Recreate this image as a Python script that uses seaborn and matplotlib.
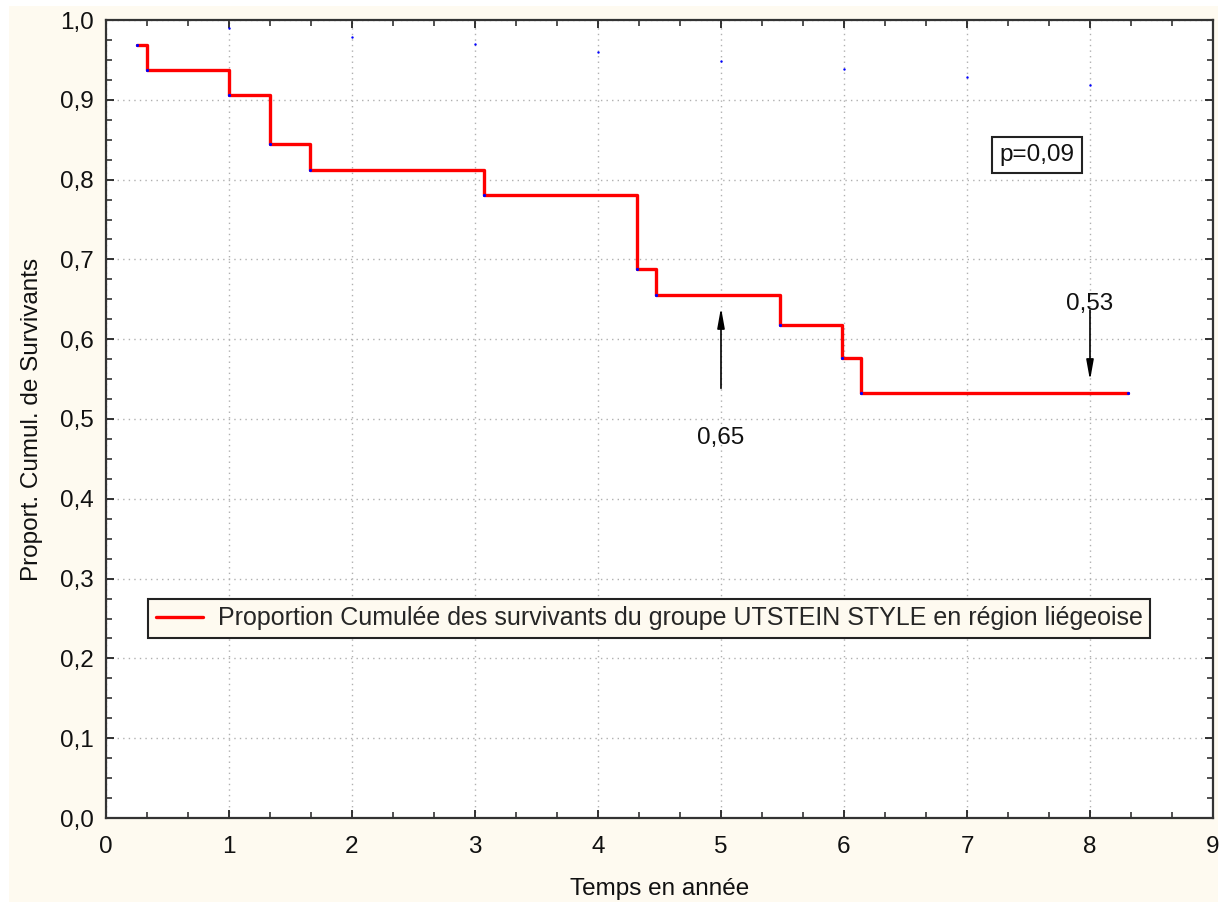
import matplotlib
matplotlib.use("Agg")
import matplotlib.pyplot as plt
import matplotlib.patches as mpatches
from matplotlib.ticker import MultipleLocator, FuncFormatter
from matplotlib.lines import Line2D
import seaborn as sns
import pandas as pd

# ---- data ----
times = [0.25, 0.33, 1.00, 1.33, 1.66, 3.07, 4.32, 4.47, 5.48, 5.98, 6.14, 8.31]
survival = [0.969, 0.9375, 0.906, 0.844, 0.8125, 0.781, 0.688, 0.656, 0.618, 0.577, 0.533, 0.533]
ref_times = [1, 2, 3, 4, 5, 6, 7, 8]
ref_values = [0.990, 0.979, 0.970, 0.960, 0.948, 0.939, 0.929, 0.918]
annot_x = [5, 8]
annot_values = [0.65, 0.53]
legend_label = "Proportion Cumulée des survivants du groupe UTSTEIN STYLE en région liégeoise"
x_label = "Temps en année"
y_label = "Proport. Cumul. de Survivants"
p_text = "p=0,09"

sns.set_theme(style="white")
plt.rcParams['font.family'] = ['Liberation Sans', 'DejaVu Sans']
FS = 17.5

fig = plt.figure(figsize=(12.23, 9.02), dpi=100, facecolor="white")
# cream background frame
fig.patches.append(mpatches.Rectangle((9 / 1223, 0), (1218 - 9) / 1223, (902 - 6) / 902,
                                      transform=fig.transFigure, facecolor="#FEFAF0",
                                      edgecolor="none", zorder=-10))
ax = fig.add_axes([106 / 1223, 1 - 818 / 902, (1213 - 106) / 1223, (818 - 20) / 902])
ax.set_facecolor("white")

df = pd.DataFrame({"t": times, "s": survival})
sns.lineplot(data=df, x="t", y="s", ax=ax, drawstyle="steps-post", color="#FF0000",
             linewidth=2.4, marker="o", markersize=1.5, markerfacecolor="blue",
             markeredgecolor="blue", zorder=3, legend=False)

ref = pd.DataFrame({"t": ref_times, "v": ref_values})
sns.scatterplot(data=ref, x="t", y="v", ax=ax, color="blue", s=3, linewidth=0, zorder=3)

ax.set_xlim(0, 9)
ax.set_ylim(0, 1)
ax.xaxis.set_major_locator(MultipleLocator(1))
ax.xaxis.set_minor_locator(MultipleLocator(1 / 3))
ax.yaxis.set_major_locator(MultipleLocator(0.1))
ax.yaxis.set_minor_locator(MultipleLocator(0.025))
ax.yaxis.set_major_formatter(FuncFormatter(lambda v, p: f"{v:.1f}".replace(".", ",")))
ax.xaxis.set_major_formatter(FuncFormatter(lambda v, p: f"{v:.0f}"))

ax.tick_params(which="both", direction="in", top=True, right=True, bottom=True, left=True,
               color="#222222")
ax.tick_params(which="major", length=6, width=1.3, labelsize=FS, pad=9, labelcolor="#111111")
ax.tick_params(which="minor", length=4, width=1.1)
ax.tick_params(axis="x", which="major", pad=13)

ax.grid(True, which="major", linestyle=(0, (1, 3)), color="#b0b0b0", linewidth=1.0)
for sp in ax.spines.values():
    sp.set_visible(True)
    sp.set_color("#333333")
    sp.set_linewidth(1.6)

ax.set_xlabel(x_label, fontsize=FS, color="#111111", labelpad=14)
ax.set_ylabel(y_label, fontsize=FS, color="#111111", labelpad=12)

# annotations
ax.annotate("", xy=(annot_x[0], 0.643), xytext=(annot_x[0], 0.535),
            arrowprops=dict(arrowstyle="-|>,head_length=1.0,head_width=0.18", color="black", lw=1.2))
ax.text(annot_x[0], 0.476, f"{annot_values[0]:.2f}".replace(".", ","), ha="center", va="center",
        fontsize=FS, color="#111111")
ax.annotate("", xy=(annot_x[1], 0.545), xytext=(annot_x[1], 0.64),
            arrowprops=dict(arrowstyle="-|>,head_length=1.0,head_width=0.18", color="black", lw=1.2))
ax.text(annot_x[1], 0.644, f"{annot_values[1]:.2f}".replace(".", ","), ha="center", va="center",
        fontsize=FS, color="#111111")

ax.text(7.57, 0.831, p_text, ha="center", va="center", fontsize=FS, color="#111111",
        bbox=dict(boxstyle="square,pad=0.3", fc="white", ec="#222222", lw=1.5), zorder=5)

handle = Line2D([], [], color="#FF0000", lw=2.4)
leg = ax.legend([handle], [legend_label], loc="lower left", bbox_to_anchor=(0.038, 0.2256),
                prop={"size": 18}, frameon=True, fancybox=False, framealpha=1,
                facecolor="#FEFAF0", edgecolor="#222222", borderpad=0.3,
                handlelength=1.9, handletextpad=0.6, borderaxespad=0)
leg.get_frame().set_linewidth(1.5)

fig.savefig("out.png", dpi=100, facecolor="white")
